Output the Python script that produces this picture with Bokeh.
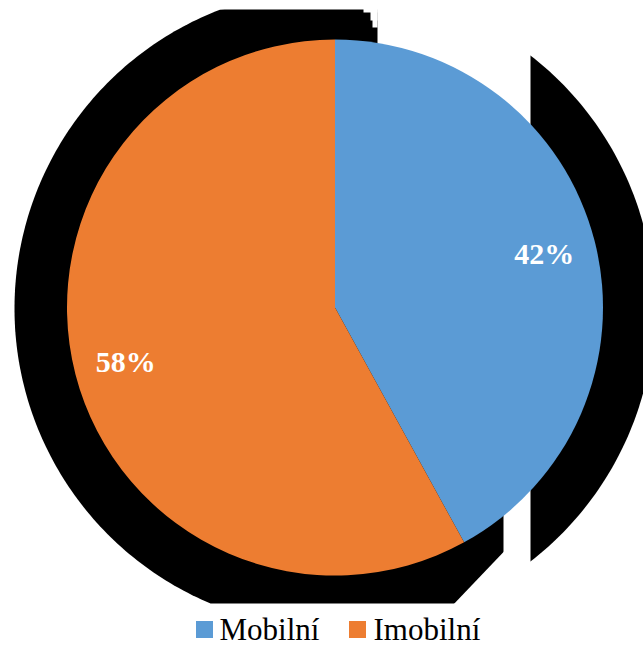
import math
import numpy as np
from bokeh.plotting import figure
from bokeh.models import Range1d, ColumnDataSource
from bokeh.core.properties import value
from bokeh.embed import file_html
from bokeh.resources import INLINE

# ---- data ----
categories = ["Mobilní", "Imobilní"]
shares = [42, 58]
colors = ["#5B9BD5", "#ED7D31"]

W, H = 643, 646
p = figure(width=W, height=H, output_backend="svg", toolbar_location=None,
           x_range=Range1d(0, W), y_range=Range1d(0, H),
           min_border=0, outline_line_color=None, background_fill_color="white",
           border_fill_color="white")
p.axis.visible = False
p.grid.visible = False

# ---- black backdrop shape (as in the source image): a clipped disc ----
th = np.linspace(0, 2 * np.pi, 400)
bx = np.clip(334 + 320 * np.cos(th), 0, W)
by = np.clip(338 + 320 * np.sin(th), 43, 637)
p.patch(x=bx, y=by, fill_color="black", line_color=None)
# white areas cutting the backdrop
p.quad(left=[377, 503, 363, 370, 372],
       right=[530, 530, 377, 377, 377],
       bottom=[338, 0, 634, 626, 619],
       top=[H, 338, H, H, H],
       fill_color="white", line_color=None)
p.patch(x=[503.5, 503.5, 451], y=[95, 40, 40], fill_color="white", line_color=None)

# ---- pie ----
cx, cy, R = 334.5, 339, 268
total = sum(shares)
starts, ends, mids = [], [], []
a = math.pi / 2
for s in shares:
    sweep = s / total * 2 * math.pi
    starts.append(a - sweep)
    ends.append(a)
    mids.append(a - sweep / 2)
    a -= sweep
src = ColumnDataSource(dict(start=starts, end=ends, color=colors, cat=categories))
p.wedge(x=cx, y=cy, radius=R, start_angle="start", end_angle="end",
        fill_color="color", line_color=None, source=src)

# ---- percentage labels ----
lr = 216
lx = [cx + lr * math.cos(m) for m in mids]
ly = [cy + lr * math.sin(m) for m in mids]
serif = value("Liberation Serif")
p.text(x=lx, y=ly, text=[f"{s}%" for s in shares],
       text_font=serif, text_font_style="bold",
       text_font_size="30px", text_color="white",
       text_align="center", text_baseline="middle")

# ---- legend ----
sq_x = [195.5, 348.5]
txt_x = [219, 373]
p.rect(x=[v + 8.5 for v in sq_x], y=[646 - 629] * 2, width=17, height=17,
       fill_color=colors, line_color=None)
p.text(x=txt_x, y=[646 - 629] * 2, text=categories,
       text_font=serif, text_font_size="31px",
       text_color="black", text_align="left", text_baseline="middle")

open("out.html", "w").write(file_html(p, INLINE))
